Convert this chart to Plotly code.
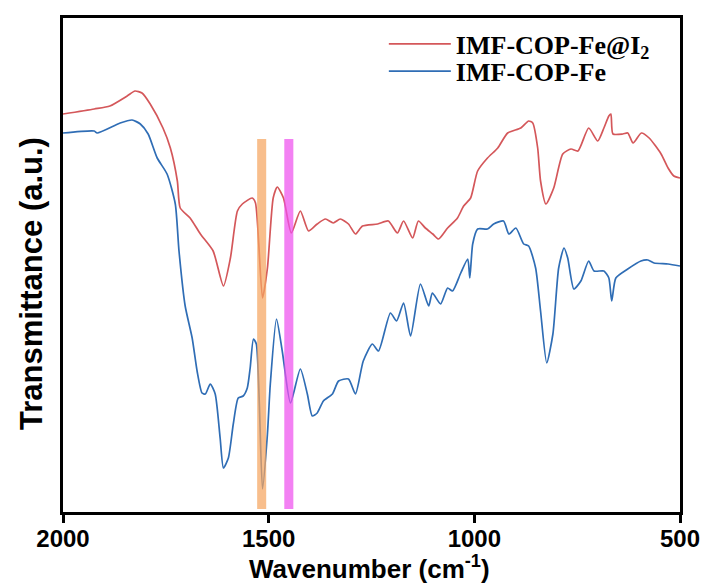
import plotly.graph_objects as go

# ---------------- data ----------------
wn_red = [2000, 1924, 1886, 1844, 1825, 1808, 1788, 1757, 1739, 1722, 1715, 1691, 1666,
          1635, 1610, 1593, 1576, 1564, 1540, 1532, 1515, 1503, 1489, 1479, 1464, 1445,
          1423, 1403, 1382, 1362, 1343, 1326, 1306, 1289, 1272, 1235, 1209, 1187, 1172,
          1150, 1136, 1119, 1101, 1087, 1065, 1041, 1026, 1009, 992, 968, 943, 919, 887,
          868, 858, 846, 839, 826, 807, 785, 765, 748, 722, 700, 685, 673, 668, 663, 639,
          627, 614, 594, 575, 546, 529, 515, 500]
t_red = [398, 403, 406, 416, 421, 419, 408, 384, 364, 331, 304, 294, 278,
         261, 226, 254, 301, 308, 314, 309, 214, 244, 314, 325, 314, 279,
         301, 281, 288, 293, 289, 293, 288, 278, 286, 288, 291, 279, 291,
         274, 291, 284, 278, 273, 284, 294, 306, 314, 341, 354, 364, 379, 384,
         391, 389, 364, 331, 308, 324, 358, 363, 361, 384, 371, 384, 396, 398, 378, 378,
         379, 369, 379, 374, 358, 344, 336, 334]

wn_blue = [2000, 1924, 1917, 1861, 1832, 1812, 1793, 1771, 1747, 1727, 1718, 1703, 1686,
           1674, 1662, 1654, 1642, 1630, 1618, 1610, 1598, 1586, 1574, 1562, 1552, 1545,
           1537, 1530, 1515, 1503, 1496, 1481, 1467, 1447, 1423, 1406, 1394, 1382, 1367,
           1345, 1330, 1306, 1289, 1270, 1248, 1233, 1204, 1189, 1172, 1155, 1131, 1111,
           1102, 1082, 1065, 1053, 1033, 1016, 1011, 1004, 992, 968, 953, 929, 916, 899,
           880, 868, 851, 839, 824, 809, 795, 782, 773, 758, 741, 722, 709, 685, 673, 666,
           656, 627, 595, 578, 563, 529, 500]
t_blue = [379, 381, 379, 389, 392, 388, 378, 354, 338, 308, 261, 206, 174,
          141, 119, 118, 128, 118, 74, 44, 54, 88, 114, 116, 124, 144,
          173, 168, 23, 78, 128, 193, 161, 109, 143, 118, 96, 99, 111,
          118, 131, 133, 118, 151, 168, 161, 199, 191, 209, 176, 228, 206,
          219, 208, 224, 221, 239, 253, 234, 268, 283, 283, 288, 291, 278, 284,
          268, 266, 244, 201, 149, 178, 244, 264, 254, 223, 231, 251, 241, 241, 234, 211,
          234, 243, 251, 252, 249, 248, 246]

# highlighted bands (wavenumber ranges)
band_orange = [1506, 1528]
band_magenta = [1440, 1462]
band_height = [3, 373]

x_ticks = [2000, 1500, 1000, 500]
x_range = [2000, 500]
y_range = [0, 494]

RED = "#d4575a"
BLUE = "#2f6db5"

fig = go.Figure()
fig.add_trace(go.Scatter(x=wn_red, y=t_red, mode="lines",
                         name="IMF-COP-Fe@I<sub>2</sub>", legend="legend",
                         line=dict(color=RED, width=1.7, shape="spline", smoothing=0.6)))
fig.add_trace(go.Scatter(x=wn_blue, y=t_blue, mode="lines",
                         name="IMF-COP-Fe", legend="legend2",
                         line=dict(color=BLUE, width=1.7, shape="spline", smoothing=0.6)))

fig.add_shape(type="rect", xref="x", yref="y",
              x0=band_orange[0], x1=band_orange[1], y0=band_height[0], y1=band_height[1],
              fillcolor="rgb(245,165,95)", opacity=0.72, line=dict(width=0), layer="above")
fig.add_shape(type="rect", xref="x", yref="y",
              x0=band_magenta[0], x1=band_magenta[1], y0=band_height[0], y1=band_height[1],
              fillcolor="rgb(238,80,238)", opacity=0.72, line=dict(width=0), layer="above")

fig.add_annotation(text="<b>Transmittance (a.u.)</b>", xref="paper", yref="paper",
                   x=-0.050, y=0.462, xanchor="center", yanchor="middle",
                   textangle=-90, showarrow=False,
                   font=dict(family="Liberation Sans, Arial", size=31, color="black"))
fig.add_annotation(text="<b>Wavenumber (cm<sup>-1</sup>)</b>", xref="paper", yref="paper",
                   x=0.497, y=-0.112, xanchor="center", yanchor="middle", showarrow=False,
                   font=dict(family="Liberation Sans, Arial", size=26, color="black"))

legend_font = dict(family="Liberation Serif, Times New Roman", size=26,
                   color="black", weight="bold")
fig.update_layout(
    width=705, height=585,
    margin=dict(l=63, r=25, t=18, b=73),
    paper_bgcolor="white", plot_bgcolor="white",
    showlegend=True,
    legend=dict(x=0.52, y=0.995, xanchor="left", yanchor="top",
                bgcolor="rgba(0,0,0,0)", borderwidth=0, font=legend_font,
                itemwidth=62),
    legend2=dict(x=0.52, y=0.94, xanchor="left", yanchor="top",
                 bgcolor="rgba(0,0,0,0)", borderwidth=0, font=legend_font,
                 itemwidth=62),
)
fig.update_xaxes(range=x_range, tickvals=x_ticks, ticktext=[str(v) for v in x_ticks],
                 automargin=False,
                 showline=True, linecolor="black", linewidth=3, mirror=True,
                 ticks="outside", ticklen=8, tickwidth=2.5, tickcolor="black",
                 ticklabelstandoff=-5,
                 showgrid=False, zeroline=False,
                 tickfont=dict(family="Liberation Sans, Arial", size=24, color="black",
                               weight="bold"))
fig.update_yaxes(range=y_range, showticklabels=False, ticks="", automargin=False,
                 showline=True, linecolor="black", linewidth=3, mirror=True,
                 showgrid=False, zeroline=False)

fig.write_html("out.html")
